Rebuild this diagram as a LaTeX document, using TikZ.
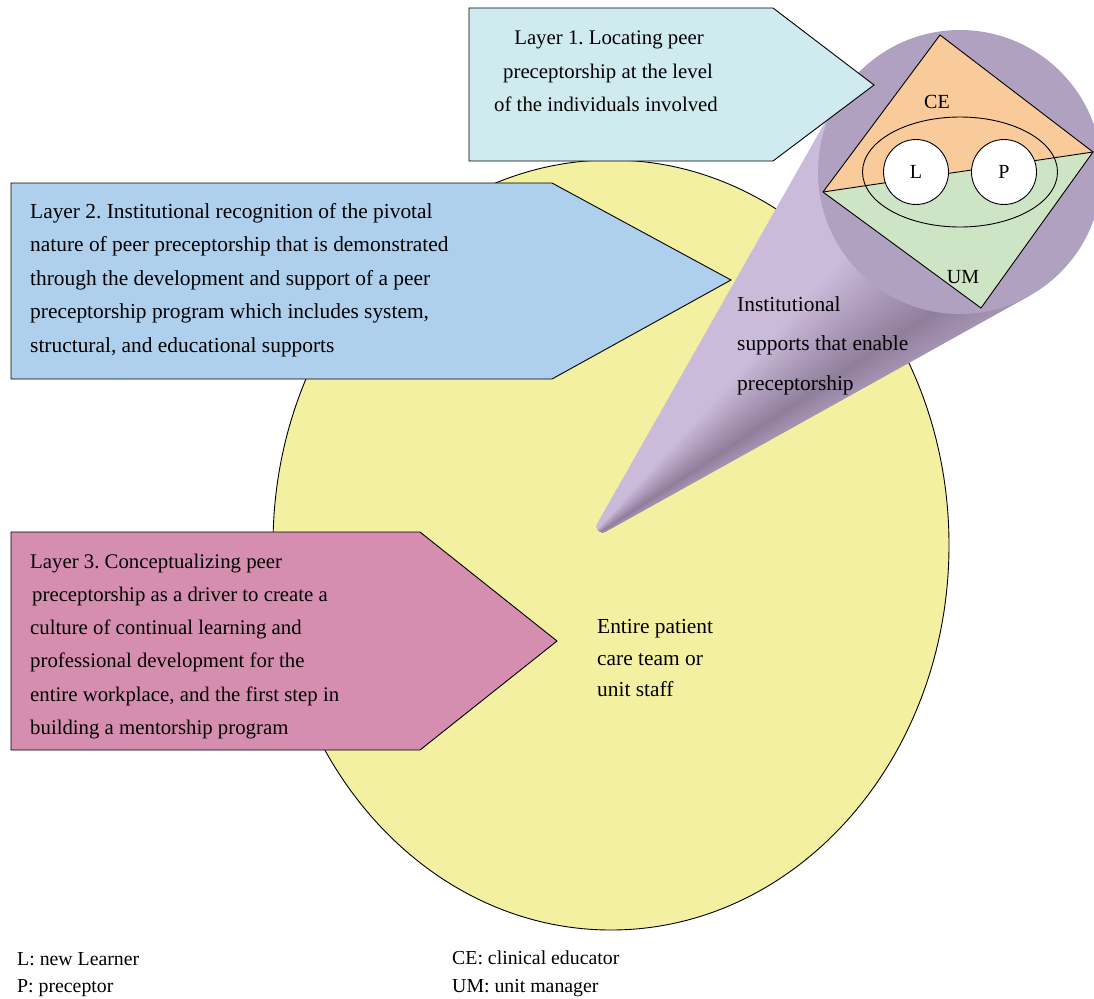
\documentclass[tikz,border=0pt]{standalone}
\usepackage{fontspec}
\setmainfont{Liberation Serif}
\frenchspacing
\definecolor{ellyellow}{HTML}{F4F0A1}
\definecolor{lonecol}{HTML}{CFEBF0}
\definecolor{ltwocol}{HTML}{AFD0EC}
\definecolor{lthreecol}{HTML}{D58EAF}
\definecolor{circcol}{HTML}{B0A1C1}
\definecolor{conelight}{HTML}{CBBBDA}
\definecolor{conedark}{HTML}{8F7E9C}
\definecolor{ceorange}{HTML}{F9CA9A}
\definecolor{umgreen}{HTML}{CDE4C5}
\begin{document}
\begin{tikzpicture}[x=1pt,y=-1pt,
  outline/.style={draw=black, line width=0.9pt},
  boxtxt/.style={inner sep=0pt, anchor=base west, font=\fontsize{20.8}{24}\selectfont},
  boxtxtc/.style={inner sep=0pt, anchor=base, font=\fontsize{20.8}{24}\selectfont},
  boxtxtb/.style={inner sep=0pt, anchor=base west, font=\fontsize{21.4}{24}\selectfont},
  plaintxt/.style={inner sep=0pt, anchor=base west, font=\fontsize{21.4}{24}\selectfont},
  legtxt/.style={inner sep=0pt, anchor=base west, font=\fontsize{19.8}{24}\selectfont},
  lbl/.style={inner sep=0pt, anchor=base, font=\fontsize{20}{24}\selectfont},
  person/.style={circle, draw=black, line width=0.9pt, fill=white, minimum size=65pt, inner sep=0pt, font=\fontsize{20}{24}\selectfont}
]
\useasboundingbox (0,0) rectangle (1094,998);
\clip (0,0) rectangle (1094,998);

% unit staff ellipse
\draw[outline, fill=ellyellow] (611,545) ellipse [x radius=338pt, y radius=385pt];

% cone
\begin{scope}[shift={(587,542)}, rotate=44.77]
  \clip (20.58pt,5.78pt) arc[start angle=105.68, end angle=254.32, radius=6pt]
     -- (486.98pt,-136.70pt) -- (525.4pt,0pt) -- (486.98pt,136.70pt) -- cycle;
  \foreach \i in {0,...,59} {
    \pgfmathsetmacro\aa{15.8-\i*31.6/60}
    \pgfmathsetmacro\ab{15.8-(\i+1)*31.6/60}
    \pgfmathsetmacro\ra{525.4*cos(\aa)}
    \pgfmathsetmacro\rb{525.4*cos(\ab)}
    \pgfmathsetmacro\f{(\i+0.5)/60}
    \pgfmathsetmacro\p{\f<0.40 ? 100 : (\f<0.86 ? 100-(\f-0.40)/0.46*100 : (\f-0.86)/0.14*35)}
    \fill[draw, color=conelight!\p!conedark, line width=0.6pt] (0pt,0pt) -- (\aa:\ra pt) -- (\ab:\rb pt) -- cycle;
  }
\end{scope}
\fill[circcol] (960,172) circle[radius=142pt];

% diamond
\coordinate (dT) at (940,35);
\coordinate (dL) at (823,192);
\coordinate (dB) at (981,308);
\coordinate (dR) at (1093,152);
\fill[ceorange] (dT) -- (dL) -- (dR) -- cycle;
\fill[umgreen] (dL) -- (dB) -- (dR) -- cycle;
\draw[outline] (dL) -- (dR);
\draw[outline] (960,172) ellipse [x radius=97.5pt, y radius=55pt];
\node[person] (L) at (916,172) {L};
\node[person] (P) at (1004,172) {P};
\draw[outline, line join=miter] (dT) -- (dL) -- (dB) -- (dR) -- cycle;
\node[lbl] (ce) at (937,108) {CE};
\node[lbl] (um) at (963,283) {UM};

% Layer 1
\draw[outline, fill=lonecol] (469,8) -- (773,8) -- (874,85) -- (773,161) -- (469,161) -- cycle;
\node[boxtxtc] (l1a) at (609,45) {Layer 1. Locating peer};
\node[boxtxtc] (l1b) at (608,78) {preceptorship at the level};
\node[boxtxtc] (l1c) at (606,111) {of the individuals involved};

% Layer 2
\draw[outline, fill=ltwocol] (11,183) -- (552,183) -- (731,280) -- (552,379) -- (11,379) -- cycle;
\node[boxtxtb] (l2a) at (30,218) {Layer 2. Institutional recognition of the pivotal};
\node[boxtxtb] (l2b) at (30,251.5) {nature of peer preceptorship that is demonstrated};
\node[boxtxtb] (l2c) at (30,285) {through the development and support of a peer};
\node[boxtxtb] (l2d) at (30,318.5) {preceptorship program which includes system,};
\node[boxtxtb] (l2e) at (30,352) {structural, and educational supports};

% Layer 3
\draw[outline, fill=lthreecol] (11,532) -- (420,532) -- (557,641) -- (420,750) -- (11,750) -- cycle;
\node[boxtxt] (l3a) at (30,568) {Layer 3. Conceptualizing peer};
\node[boxtxt] (l3b) at (32,601.3) {preceptorship as a driver to create a};
\node[boxtxt] (l3c) at (30,634.6) {culture of continual learning and};
\node[boxtxt] (l3d) at (30,667.9) {professional development for the};
\node[boxtxt] (l3e) at (30,701.2) {entire workplace, and the first step in};
\node[boxtxt] (l3f) at (30,734.5) {building a mentorship program};

% inner texts
\node[plaintxt] (st1) at (597,633) {Entire patient};
\node[plaintxt] (st2) at (597,665) {care team or};
\node[plaintxt] (st3) at (597,696) {unit staff};
\node[plaintxt] (is1) at (737,311) {Institutional};
\node[plaintxt] (is2) at (737,350.5) {supports that enable};
\node[plaintxt] (is3) at (737,390) {preceptorship};

% legend
\node[legtxt] (lg1) at (17,965) {L: new Learner};
\node[legtxt] (lg2) at (17,992) {P: preceptor};
\node[legtxt] (lg3) at (452,964) {CE: clinical educator};
\node[legtxt] (lg4) at (452,992) {UM: unit manager};
\end{tikzpicture}
\end{document}
